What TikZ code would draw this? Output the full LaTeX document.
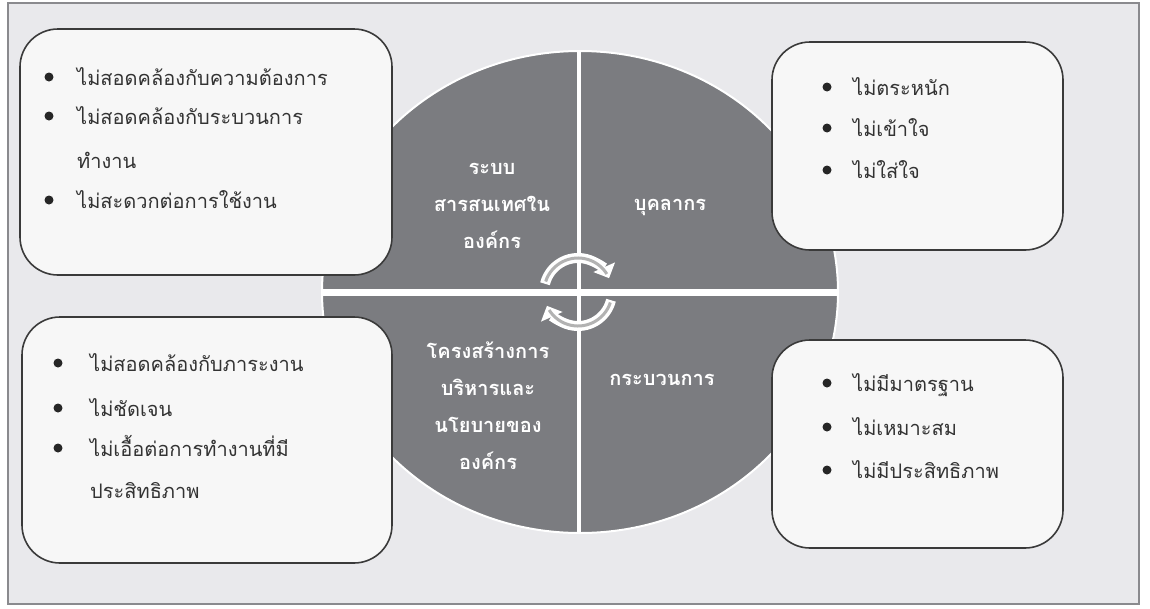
\documentclass[tikz,border=0pt]{standalone}
\usepackage{fontspec}
\newfontfamily\thaifont[Script=Thai]{Loma}
\usetikzlibrary{arrows.meta, positioning}

\definecolor{framebg}{HTML}{E9E9EC}
\definecolor{frameline}{HTML}{8A8A8E}
\definecolor{wheelgray}{HTML}{7B7C80}
\definecolor{boxfill}{HTML}{F7F7F7}
\definecolor{boxline}{HTML}{3A3A3A}
\definecolor{itemgray}{HTML}{333333}

\begin{document}
\begin{tikzpicture}[x=1pt, y=-1pt,
    listbox/.style={draw=boxline, line width=1.6pt, fill=boxfill, rounded corners=38pt, inner sep=0pt},
    itemtext/.style={anchor=base west, inner sep=0pt, text=itemgray, font=\thaifont\fontsize{20}{24}\selectfont},
    wheeltext/.style={align=center, inner sep=0pt, text=white, font=\thaifont\bfseries\fontsize{20}{37}\selectfont},
    bulletdot/.style={fill=black!85},
    turnarrow/.style={white, line width=10pt, -{Triangle[length=12pt, width=23pt]}},
    turninner/.style={black!30, line width=3pt}]
\useasboundingbox (0,0) rectangle (1150,608);
\draw[frameline, fill=framebg, line width=1.5pt] (8,3) rectangle (1139,604);

% wheel
\begin{scope}
\clip (580,292) ellipse [x radius=258, y radius=241];
\fill[wheelgray] (580,292) ellipse [x radius=258, y radius=241];
\draw[white, line width=4pt] (579,40) -- (579,545);
\draw[white, line width=7pt] (310,292) -- (850,292);
\end{scope}
\draw[white, line width=2pt] (580,292) ellipse [x radius=258, y radius=241];

\node[wheeltext] (infosys) at (492,206) {ระบบ\\สารสนเทศใน\\องค์กร};
\node[wheeltext] (staff) at (670,207) {บุคลากร};
\node[wheeltext] (structure) at (488,406) {โครงสร้างการ\\บริหารและ\\นโยบายของ\\องค์กร};
\node[wheeltext] (process) at (662,380) {กระบวนการ};

% turning arrows
\draw[turnarrow] (578,292) ++(194:34) arc[start angle=194, end angle=336, radius=34];
\draw[turninner] (578,292) ++(198:34) arc[start angle=198, end angle=328, radius=34];
\draw[turnarrow] (578,292) ++(14:34) arc[start angle=14, end angle=156, radius=34];
\draw[turninner] (578,292) ++(18:34) arc[start angle=18, end angle=148, radius=34];

% boxes
\node[listbox, minimum width=372, minimum height=246] (infobox) at (206,152) {};
\node[listbox, minimum width=291, minimum height=208] (staffbox) at (917.5,146) {};
\node[listbox, minimum width=370, minimum height=246] (structbox) at (207,440) {};
\node[listbox, minimum width=291, minimum height=208] (procbox) at (917.5,444) {};

\fill[bulletdot] (49,77) circle (4.5);
\node[itemtext] (info1) at (77,85) {ไม่สอดคล้องกับความต้องการ};
\fill[bulletdot] (49,116) circle (4.5);
\node[itemtext] (info2) at (77,124) {ไม่สอดคล้องกับระบวนการ};
\node[itemtext] (info2b) at (77,168) {ทำงาน};
\fill[bulletdot] (49,200) circle (4.5);
\node[itemtext] (info3) at (77,208) {ไม่สะดวกต่อการใช้งาน};

\fill[bulletdot] (827,87) circle (4.5);
\node[itemtext] (staff1) at (853,95) {ไม่ตระหนัก};
\fill[bulletdot] (827,128) circle (4.5);
\node[itemtext] (staff2) at (853,136) {ไม่เข้าใจ};
\fill[bulletdot] (827,170) circle (4.5);
\node[itemtext] (staff3) at (853,178) {ไม่ใส่ใจ};

\fill[bulletdot] (58,363) circle (4.5);
\node[itemtext] (struct1) at (90,371) {ไม่สอดคล้องกับภาระงาน};
\fill[bulletdot] (58,408) circle (4.5);
\node[itemtext] (struct2) at (90,416) {ไม่ชัดเจน};
\fill[bulletdot] (58,448) circle (4.5);
\node[itemtext] (struct3) at (90,456) {ไม่เอื้อต่อการทำงานที่มี};
\node[itemtext] (struct3b) at (90,498) {ประสิทธิภาพ};

\fill[bulletdot] (827,383) circle (4.5);
\node[itemtext] (proc1) at (853,391) {ไม่มีมาตรฐาน};
\fill[bulletdot] (827,427) circle (4.5);
\node[itemtext] (proc2) at (853,435) {ไม่เหมาะสม};
\fill[bulletdot] (827,470) circle (4.5);
\node[itemtext] (proc3) at (853,478) {ไม่มีประสิทธิภาพ};

\end{tikzpicture}
\end{document}
